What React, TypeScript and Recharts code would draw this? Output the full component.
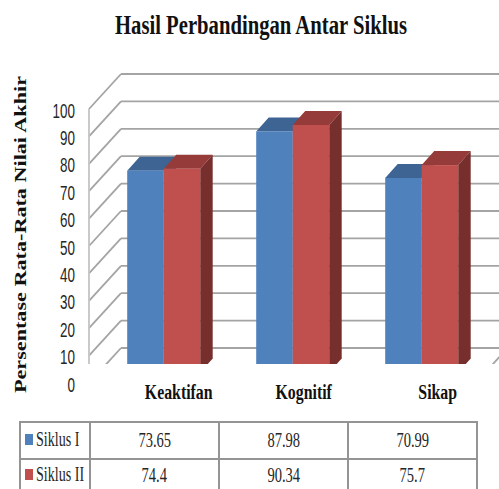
import { BarChart, Bar, XAxis, YAxis, CartesianGrid } from 'recharts'

const categories = ['Keaktifan', 'Kognitif', 'Sikap']
const siklus1 = [73.65, 87.98, 70.99]
const siklus2 = [74.4, 90.34, 75.7]
const yTicks = [0, 10, 20, 30, 40, 50, 60, 70, 80, 90, 100]
const seriesNames = ['Siklus I', 'Siklus II']

const data = categories.map((name, i) => ({ name, siklus1: siklus1[i], siklus2: siklus2[i] }))

const SERIF = '"Liberation Serif", serif'
const GRID = '#a4a4a4'
const PLOT_TOP = 98.5
const PLOT_BOTTOM = 372.5
const labelNudge = [15, 11, 16]

// the floor of the 3D box is cut off just above the category labels
const CLIP = 'url(#floorClip)'

function gridLine(props: any) {
  const y = props.y1
  const backY = y - 24.5
  const isTop = Math.abs(y - PLOT_TOP) < 1
  const isFloor = Math.abs(y - PLOT_BOTTOM) < 1
  return (
    <g key={props.key} clipPath={CLIP} stroke={GRID} strokeWidth={1.8} fill="none">
      <line x1={121} y1={backY} x2={510} y2={backY} />
      <line x1={89} y1={backY + 35} x2={121} y2={backY} />
      {isTop && <line x1={89} y1={backY + 35} x2={89} y2={400} stroke="#c4c4c4" />}
      {isFloor && <line x1={507.6} y1={backY} x2={475.6} y2={backY + 35} />}
    </g>
  )
}

function Box3D({ x, y, width, height, front, top, side }: any) {
  const dx = 12.5
  const dy = 14
  const right = x + width
  const bottom = y + height
  return (
    <g clipPath={CLIP}>
      <polygon points={`${x},${y} ${x + dx},${y - dy} ${right + dx},${y - dy} ${right},${y}`} fill={top} />
      <polygon points={`${right},${y} ${right + dx},${y - dy} ${right + dx},${bottom - dy} ${right},${bottom}`} fill={side} />
      <rect x={x} y={y} width={width} height={height} fill={front} />
    </g>
  )
}

function YTick({ y, payload }: any) {
  return (
    <text
      transform={`translate(75 ${y + 19}) scale(0.64 1)`}
      textAnchor="end"
      fontFamily='"Liberation Sans", sans-serif'
      fontSize={21}
      fill="#262626"
    >
      {payload.value}
    </text>
  )
}

function XTick({ x, y, payload, index }: any) {
  return (
    <text
      transform={`translate(${x + labelNudge[index]} ${y + 18}) scale(0.72 1)`}
      textAnchor="middle"
      fontFamily={SERIF}
      fontWeight="bold"
      fontSize={22}
      fill="#111"
    >
      {payload.value}
    </text>
  )
}

function YTitle() {
  return (
    <text
      transform="translate(26 234.5) rotate(-90)"
      textAnchor="middle"
      fontFamily={SERIF}
      fontWeight="bold"
      fontSize={17}
      fill="#111"
      textLength={317}
      lengthAdjust="spacingAndGlyphs"
    >
      Persentase Rata-Rata Nilai Akhir
    </text>
  )
}

const cellLine = '2px solid #949494'

function Squeezed({ children, scale = 0.66, origin = 'center' }: any) {
  return (
    <span style={{ display: 'inline-block', whiteSpace: 'nowrap', transform: `scaleX(${scale})`, transformOrigin: origin }}>
      {children}
    </span>
  )
}

function DataTable() {
  const rows = [siklus1, siklus2]
  const colors = ['#4f81bd', '#c0504d']
  return (
    <table
      style={{
        position: 'absolute',
        left: 19,
        top: 421,
        width: 459,
        borderCollapse: 'collapse',
        tableLayout: 'fixed',
        fontFamily: SERIF,
        fontSize: 22,
        color: '#262626',
      }}
    >
      <colgroup>
        <col style={{ width: 70 }} />
        <col style={{ width: 129 }} />
        <col style={{ width: 129 }} />
        <col style={{ width: 129 }} />
      </colgroup>
      <tbody>
        {rows.map((row, r) => (
          <tr key={r} style={{ height: 37 }}>
            <td style={{ border: cellLine, padding: 0, position: 'relative' }}>
              <span style={{ position: 'absolute', left: 4, top: r === 0 ? 11 : 9, width: 8, height: 11, background: colors[r] }} />
              <span style={{ position: 'absolute', left: 15, top: r === 0 ? 3 : 1, lineHeight: '26px' }}>
                <Squeezed scale={0.64} origin="left">{seriesNames[r]}</Squeezed>
              </span>
            </td>
            {row.map((v, c) => (
              <td
                key={c}
                style={{
                  border: cellLine,
                  padding: 0,
                  paddingTop: r === 0 ? 4 : 2,
                  textAlign: 'center',
                  verticalAlign: 'top',
                  lineHeight: '26px',
                }}
              >
                <Squeezed>{v}</Squeezed>
              </td>
            ))}
          </tr>
        ))}
      </tbody>
    </table>
  )
}

export default function App() {
  return (
    <div style={{ position: 'absolute', left: 0, top: 0, width: 499, height: 489, overflow: 'hidden', background: '#fff' }}>
      <svg width={0} height={0} style={{ position: 'absolute' }}>
        <defs>
          <clipPath id="floorClip" clipPathUnits="userSpaceOnUse">
            <rect x={0} y={0} width={499} height={364} />
          </clipPath>
        </defs>
      </svg>
      <svg width={499} height={50} style={{ position: 'absolute', left: 0, top: 0 }}>
        <text
          x={115}
          y={34}
          fontFamily={SERIF}
          fontWeight="bold"
          fontSize={27}
          fill="#111"
          textLength={292}
          lengthAdjust="spacingAndGlyphs"
        >
          Hasil Perbandingan Antar Siklus
        </text>
      </svg>
      <div style={{ position: 'absolute', left: 0, top: 0 }}>
        <BarChart
          width={499}
          height={489}
          data={data}
          margin={{ top: PLOT_TOP, right: 12.8, bottom: 489 - PLOT_BOTTOM - 30, left: 0 }}
          barSize={36.5}
          barGap={0}
        >
          <CartesianGrid vertical={false} horizontal={gridLine} />
          <XAxis dataKey="name" height={30} axisLine={false} tickLine={false} tick={<XTick />} interval={0} />
          <YAxis
            width={99.2}
            domain={[0, 100]}
            ticks={yTicks}
            interval={0}
            axisLine={false}
            tickLine={false}
            tick={<YTick />}
            label={<YTitle />}
          />
          <Bar dataKey="siklus1" isAnimationActive={false} shape={<Box3D front="#4f81bd" top="#3e6494" side="#385d8a" />} />
          <Bar dataKey="siklus2" isAnimationActive={false} shape={<Box3D front="#c0504d" top="#953b39" side="#772f2e" />} />
        </BarChart>
      </div>
      <DataTable />
    </div>
  )
}
